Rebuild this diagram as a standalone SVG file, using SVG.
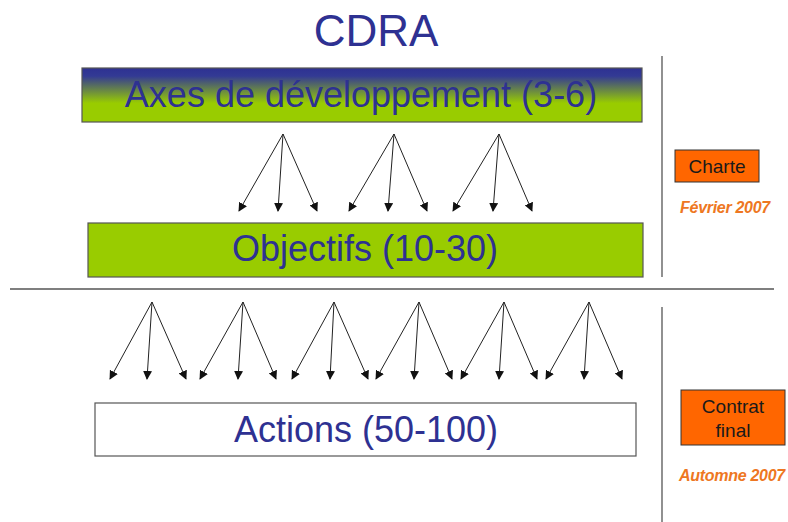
<svg xmlns="http://www.w3.org/2000/svg" width="788" height="522" viewBox="0 0 788 522">
<defs>
<linearGradient id="g1" x1="0" y1="0" x2="0" y2="1">
<stop offset="0" stop-color="#2e3192"/>
<stop offset="0.15" stop-color="#333a94"/>
<stop offset="0.65" stop-color="#99cc00"/>
<stop offset="1" stop-color="#99cc00"/>
</linearGradient>
<marker id="ah" viewBox="0 0 10 10" refX="9" refY="5" markerWidth="9" markerHeight="9" markerUnits="userSpaceOnUse" orient="auto">
<path d="M0,0 L10,5 L0,10 z" fill="#111"/>
</marker>
<style>
.t{font-family:"Liberation Sans",Arial,sans-serif;fill:#2e3192;text-anchor:middle}
.big{font-size:36px}
.box{stroke:#555;stroke-width:1.2}
.or{fill:#ff6600;stroke:#333;stroke-width:1}
.ot{font-family:"Liberation Sans",Arial,sans-serif;fill:#1a1a1a;font-size:19px;text-anchor:middle}
.dt{font-family:"Liberation Sans",Arial,sans-serif;fill:#ee7722;font-size:16px;font-weight:bold;font-style:italic;text-anchor:middle;letter-spacing:-0.3px}
.sep{stroke:#555;stroke-width:1.3;fill:none}
.c line{stroke:#222;stroke-width:1;marker-end:url(#ah)}
</style>
</defs>
<rect width="788" height="522" fill="#fff"/>
<g id="title"><text class="t" x="376" y="46" font-size="44">CDRA</text></g>
<g id="axes">
<rect class="box" x="82" y="68" width="560" height="54" fill="url(#g1)"/>
<text class="t big" x="361" y="107">Axes de développement (3-6)</text>
</g>
<g id="objectifs">
<rect class="box" x="88" y="223" width="555" height="54" fill="#99cc00"/>
<text class="t big" x="365" y="261">Objectifs (10-30)</text>
</g>
<g id="actions">
<rect class="box" x="95" y="403" width="541" height="53" fill="#fff"/>
<text class="t big" x="366" y="442">Actions (50-100)</text>
</g>
<g id="charte">
<rect class="or" x="675" y="150" width="84" height="32"/>
<text class="ot" x="717" y="173">Charte</text>
<text class="dt" x="725" y="213">Février 2007</text>
</g>
<g id="contrat">
<rect class="or" x="681" y="390" width="104" height="55"/>
<text class="ot" x="733" y="413">Contrat</text>
<text class="ot" x="733" y="437">final</text>
<text class="dt" x="732" y="481">Automne 2007</text>
</g>
<g id="separators">
<line class="sep" x1="10" y1="289" x2="774" y2="289"/>
<line class="sep" x1="662" y1="56" x2="662" y2="277"/>
<line class="sep" x1="662" y1="307" x2="662" y2="522"/>
</g>
<g id="connectors" class="c">
<line x1="283" y1="134" x2="239" y2="211"/>
<line x1="283" y1="134" x2="278" y2="211"/>
<line x1="283" y1="134" x2="317" y2="211"/>
<line x1="394" y1="134" x2="349" y2="211"/>
<line x1="394" y1="134" x2="388" y2="211"/>
<line x1="394" y1="134" x2="427" y2="211"/>
<line x1="499" y1="134" x2="453" y2="211"/>
<line x1="499" y1="134" x2="493" y2="211"/>
<line x1="499" y1="134" x2="532" y2="211"/>
<line x1="152" y1="302" x2="110" y2="379"/>
<line x1="152" y1="302" x2="147" y2="379"/>
<line x1="152" y1="302" x2="186" y2="379"/>
<line x1="243" y1="302" x2="200" y2="379"/>
<line x1="243" y1="302" x2="238" y2="379"/>
<line x1="243" y1="302" x2="276" y2="379"/>
<line x1="334" y1="302" x2="292" y2="379"/>
<line x1="334" y1="302" x2="330" y2="379"/>
<line x1="334" y1="302" x2="368" y2="379"/>
<line x1="419" y1="302" x2="376" y2="379"/>
<line x1="419" y1="302" x2="414" y2="379"/>
<line x1="419" y1="302" x2="452" y2="379"/>
<line x1="504" y1="302" x2="461" y2="379"/>
<line x1="504" y1="302" x2="499" y2="379"/>
<line x1="504" y1="302" x2="537" y2="379"/>
<line x1="589" y1="302" x2="546" y2="379"/>
<line x1="589" y1="302" x2="584" y2="379"/>
<line x1="589" y1="302" x2="622" y2="379"/>
</g>
</svg>
